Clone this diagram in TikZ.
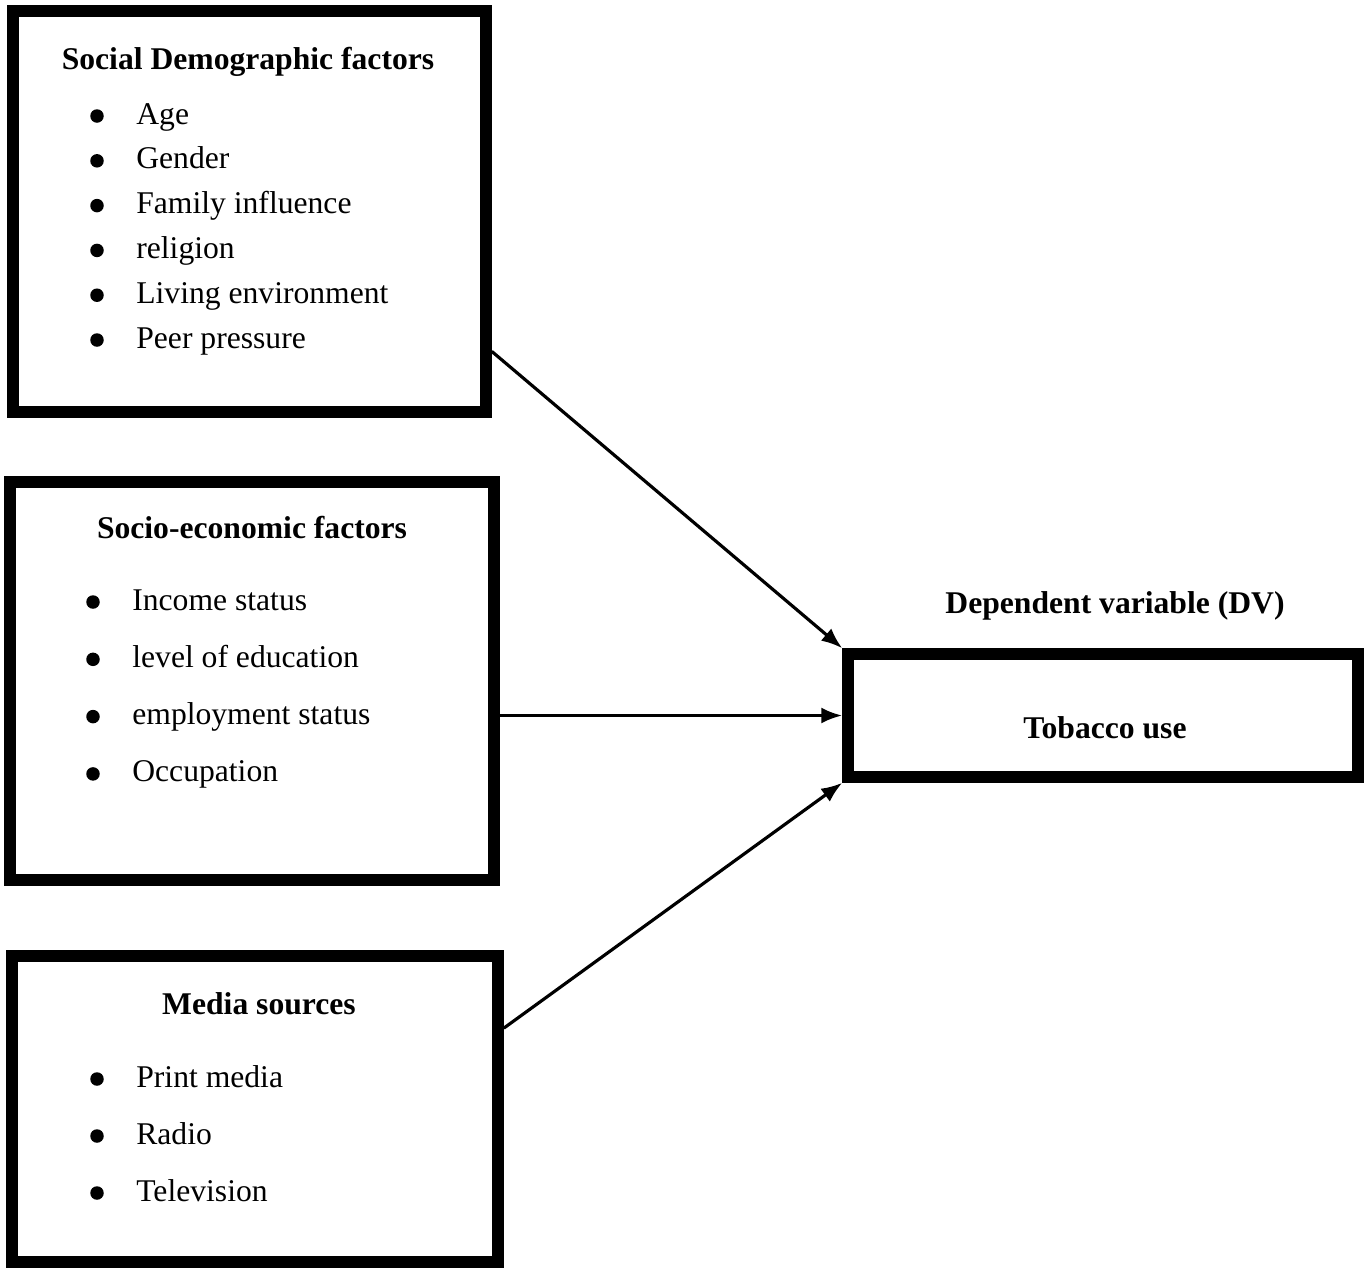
\documentclass[tikz,border=0pt]{standalone}
\usepackage{fontspec}
\setmainfont{Liberation Serif}
\usetikzlibrary{arrows.meta, calc}

\tikzset{
  factorbox/.style={draw, rectangle, line width=6.6pt, inner sep=0pt},
  boxtitle/.style={font=\fontsize{18}{22}\selectfont\bfseries, anchor=base, inner sep=0pt},
  itemtext/.style={font=\fontsize{18}{22}\selectfont, anchor=base west, inner sep=0pt},
  itemdot/.style={circle, fill, inner sep=0pt, minimum size=0.27cm},
  link/.style={->, line width=1.8pt}
}

\begin{document}
\begin{tikzpicture}[>={Latex[length=0.42cm, width=0.32cm]}, x=0.02cm, y=-0.02cm]
 	\useasboundingbox (0,0) rectangle (1364,1268);
 	%%%	Boxes
 	\node[factorbox, minimum width=9.46cm, minimum height=8.02cm] (socdem) at (249.5,211.5) {};
 	\node[factorbox, minimum width=9.68cm, minimum height=7.96cm] (socecon) at (252,681) {};
 	\node[factorbox, minimum width=9.72cm, minimum height=6.12cm] (media) at (255,1109) {};
 	\node[factorbox, minimum width=10.2cm, minimum height=2.46cm] (tobacco) at (1103,715.5) {};
 	
 	% Social demographic factors
 	\node[boxtitle] (socdemtitle) at (248,69) {Social Demographic factors};
 	\foreach \t [count=\i] in {Age, Gender, Family influence, religion, Living environment, Peer pressure}{
 		\node[itemdot] (socdemdot-\i) at (97,{116+44.8*(\i-1)}) {};
 		\node[itemtext] (socdem-\i) at (136,{124+44.8*(\i-1)}) {\t};
 	}
 	
 	% Socio-economic factors
 	\node[boxtitle] (socecontitle) at (252,538) {Socio-economic factors};
 	\foreach \t [count=\i] in {Income status, level of education, employment status, Occupation}{
 		\node[itemdot] (socecondot-\i) at (93,{602+57.3*(\i-1)}) {};
 		\node[itemtext] (socecon-\i) at (132,{610+57.3*(\i-1)}) {\t};
 	}
 	
 	% Media sources
 	\node[boxtitle] (mediatitle) at (259,1014) {Media sources};
 	\foreach \t [count=\i] in {Print media, Radio, Television}{
 		\node[itemdot] (mediadot-\i) at (97,{1079+57*(\i-1)}) {};
 		\node[itemtext] (media-\i) at (136,{1087+57*(\i-1)}) {\t};
 	}
 	
 	% Dependent variable
 	\node[boxtitle] (dvtitle) at (1115,613) {Dependent variable (DV)};
 	\node[boxtitle] (tobaccotitle) at (1105,738) {Tobacco use};
 	
 	%%%	Arrows
 	\draw[link] (socdem.-30) -- (tobacco.north west);
 	\draw[link] (socecon.east |- tobacco.west) -- (tobacco.west);
 	\draw[link] (media.18.7) -- (tobacco.south west);
 	
\end{tikzpicture}
\end{document}
